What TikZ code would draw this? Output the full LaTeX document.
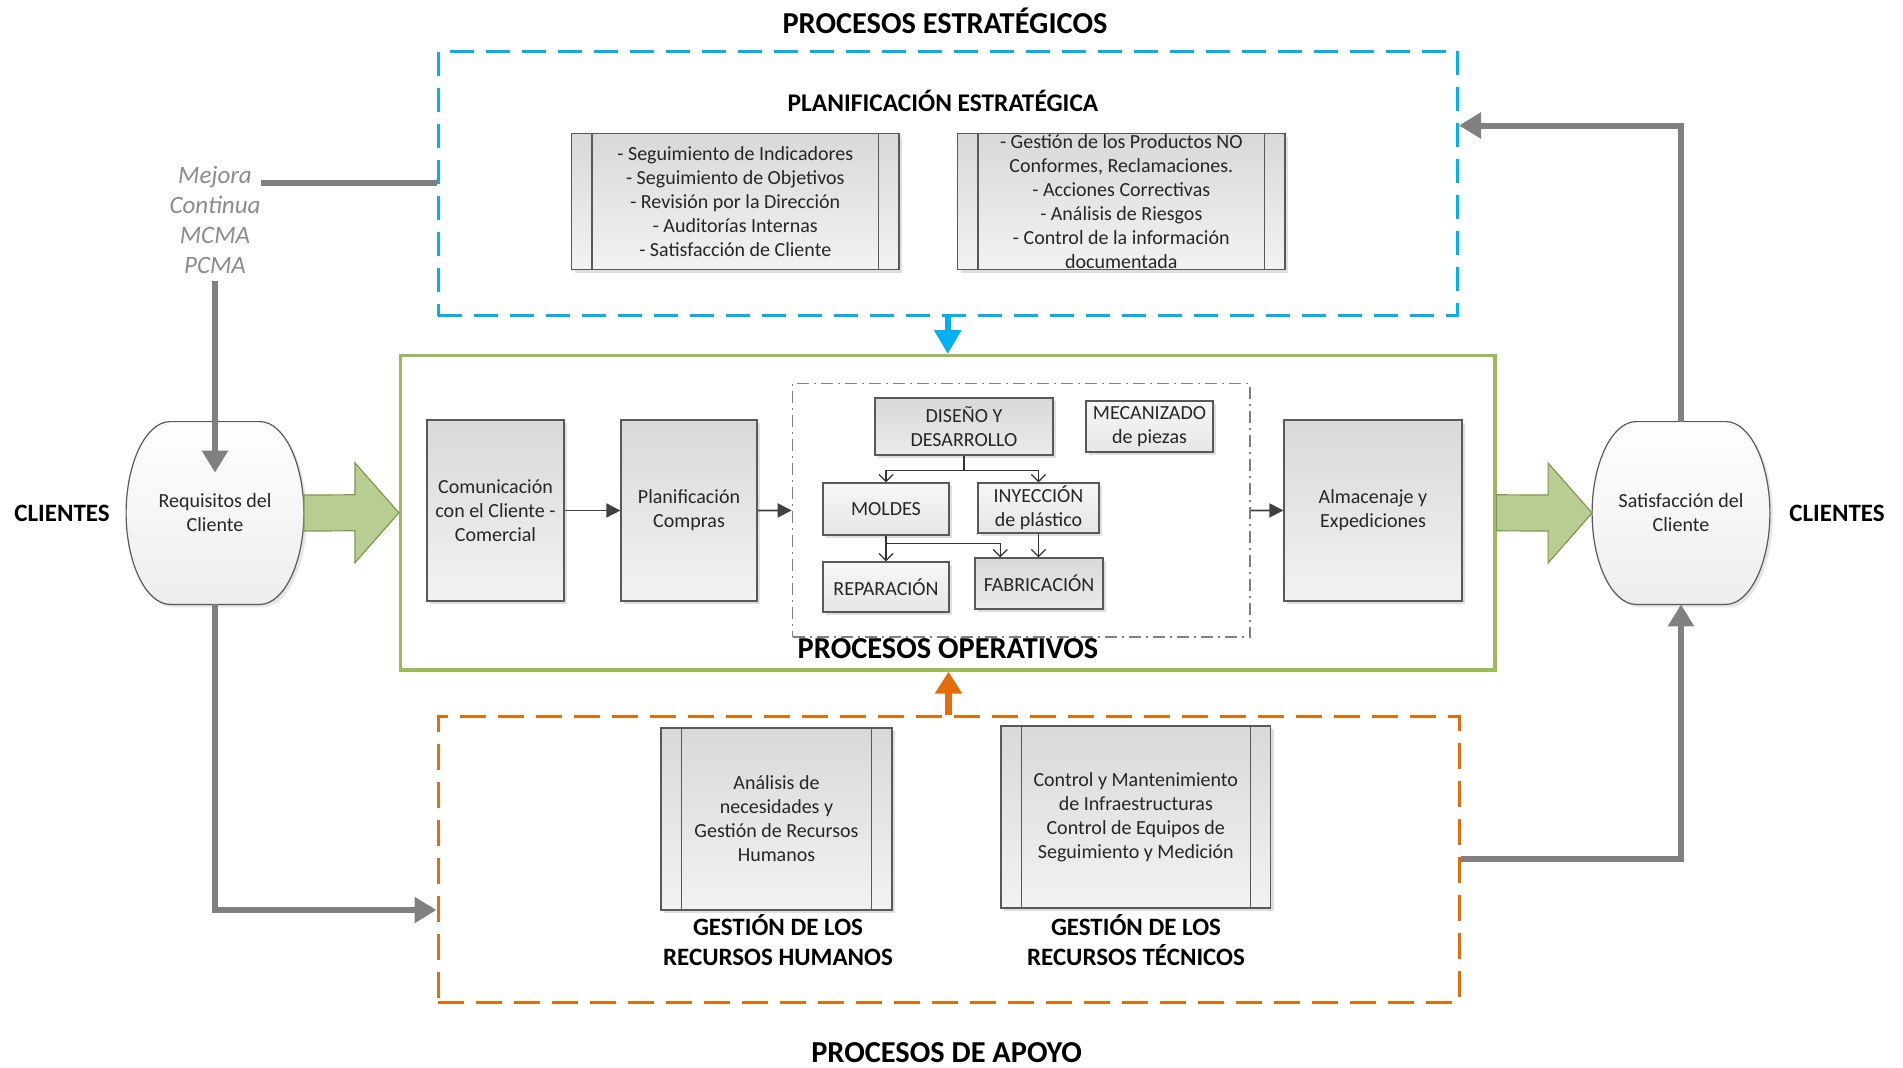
\documentclass[tikz,border=0pt]{standalone}
\usepackage{fontspec}
\setmainfont{Carlito}
\usetikzlibrary{backgrounds}
\usetikzlibrary{calc}
\usetikzlibrary{arrows.meta}
\usetikzlibrary{shadows}

\definecolor{estblue}{HTML}{00B0F0}
\definecolor{opgreen}{HTML}{9BBB59}
\definecolor{apoorange}{HTML}{E46C0A}
\definecolor{flowgray}{HTML}{808080}
\definecolor{edgegray}{HTML}{595959}
\definecolor{arrfill}{HTML}{B9CC92}
\definecolor{arredge}{HTML}{7F9A4C}
\definecolor{txtdark}{HTML}{262626}
\definecolor{mejgray}{HTML}{8C8C8C}

\newcommand{\barside}{10.5pt}
\newcommand{\barrelcut}{44}
\newcommand{\shafthalf}{18}
\newcommand{\headhalf}{50}
\newcommand{\headlen}{44}

% inner bars of a process box
\newcommand{\sidebars}[1]{
  \draw[edgegray, line width=0.6pt] ([xshift=\barside]#1.north west)
    -- ([xshift=\barside]#1.south west);
  \draw[edgegray, line width=0.6pt] ([xshift=-\barside]#1.north east)
    -- ([xshift=-\barside]#1.south east);
}

% client shape round a node
\newcommand{\barrel}[1]{
  \draw[barrelline] ($(#1.north west)+(\barrelcut,0)$)
    -- ($(#1.north east)+(-\barrelcut,0)$)
    .. controls ($(#1.north east)+(-20,0)$) and ($(#1.east)+(0,-50)$) .. (#1.east)
    .. controls ($(#1.east)+(0,50)$) and ($(#1.south east)+(-20,0)$) .. ($(#1.south east)+(-\barrelcut,0)$)
    -- ($(#1.south west)+(\barrelcut,0)$)
    .. controls ($(#1.south west)+(20,0)$) and ($(#1.west)+(0,50)$) .. (#1.west)
    .. controls ($(#1.west)+(0,-50)$) and ($(#1.north west)+(20,0)$) .. cycle;
}

% wide green arrow
\newcommand{\bigarrow}[2]{
  \draw[bigarr] ($(#1)+(0,-\shafthalf)$) -- ($(#2)+(-\headlen,-\shafthalf)$)
    -- ($(#2)+(-\headlen,-\headhalf)$) -- (#2)
    -- ($(#2)+(-\headlen,\headhalf)$) -- ($(#2)+(-\headlen,\shafthalf)$)
    -- ($(#1)+(0,\shafthalf)$) -- cycle;
}

\tikzset{
  every node/.style={text=txtdark, align=center, font=\fontsize{10}{12}\selectfont},
  title/.style={font=\bfseries\fontsize{15.2}{18}\selectfont, text=black},
  subtitle/.style={font=\bfseries\fontsize{12.7}{15}\selectfont, text=black},
  gestitle/.style={font=\bfseries\fontsize{12.5}{15}\selectfont, text=black},
  estbox/.style={draw=estblue, line width=1.5pt, dash pattern=on 12pt off 6pt},
  apobox/.style={draw=apoorange, line width=1.5pt, dash pattern=on 13pt off 6pt},
  opbox/.style={draw=opgreen, line width=1.6pt},
  prodbox/.style={draw=flowgray, line width=0.8pt, dash pattern=on 6pt off 2.5pt on 1pt off 2.5pt},
  procbox/.style={draw=edgegray, line width=0.6pt, inner sep=0pt,
    top color=black!15, bottom color=black!5,
    drop shadow={opacity=0.25, shadow xshift=1.5pt, shadow yshift=-1.5pt}},
  darkbox/.style={procbox, top color=black!15, bottom color=black!8},
  lightbox/.style={procbox, top color=black!3, bottom color=black!10},
  clientnd/.style={inner sep=0pt, minimum width=88.5pt, minimum height=91pt},
  barrelline/.style={draw=edgegray, line width=0.6pt, top color=white, bottom color=black!7,
    drop shadow={opacity=0.2, shadow xshift=1.5pt, shadow yshift=-1.5pt}},
  bigarr/.style={draw=arredge, line width=0.6pt, fill=arrfill},
  flow/.style={draw=flowgray, line width=3pt, -{Triangle[length=11pt,width=12.5pt]}},
  flowline/.style={draw=flowgray, line width=3pt},
  smallarr/.style={draw=black!75, line width=0.85pt, -{Triangle[length=7pt,width=7pt]}},
  treearr/.style={draw=black!80, line width=0.65pt, -{Straight Barb[length=3.5pt,width=7pt]}},
  bluearr/.style={draw=estblue, line width=3.2pt, -{Triangle[length=12pt,width=13pt]}},
  orangearr/.style={draw=apoorange, line width=3.2pt, -{Triangle[length=11pt,width=13pt]}},
}

\begin{document}
\begin{tikzpicture}[x=0.5pt, y=-0.5pt]
  \useasboundingbox (0,0) rectangle (1903,1067);

  % strategic part
  \node[title] (esttitle) at (945,21) {PROCESOS ESTRATÉGICOS};
  \node[estbox, minimum width=509.75pt, minimum height=132.25pt] (est) at (947.75,183.25) {};
  \node[subtitle] (plantitle) at (943,101) {PLANIFICACIÓN ESTRATÉGICA};
  \node[procbox, minimum width=163.7pt, minimum height=68pt] (seg) at (735.3,201.5)
    {- Seguimiento de Indicadores\\- Seguimiento de Objetivos\\- Revisión por la Dirección\\- Auditorías Internas\\- Satisfacción de Cliente};
  \node[procbox, minimum width=163.7pt, minimum height=68pt] (ges) at (1121.3,201.5)
    {- Gestión de los Productos NO\\Conformes, Reclamaciones.\\- Acciones Correctivas\\- Análisis de Riesgos\\- Control de la información\\documentada};
  \sidebars{seg}
  \sidebars{ges}

  % operative part
  \node[opbox, minimum width=547.25pt, minimum height=157.2pt] (oper) at (947.75,512.8) {};
  \node[title] (optitle) at (948,649) {PROCESOS OPERATIVOS};
  \node[procbox, minimum width=68.5pt, minimum height=90.5pt] (com) at (495.5,510.5)
    {Comunicación\\con el Cliente -\\Comercial};
  \node[procbox, minimum width=68pt, minimum height=90.5pt] (plan) at (689,510.5)
    {Planificación\\Compras};
  \node[prodbox, minimum width=228.75pt, minimum height=126.75pt] (prod) at (1021.25,510.25) {};
  \node[procbox, minimum width=89pt, minimum height=90.5pt] (alm) at (1373,510.5)
    {Almacenaje y\\Expediciones};

  % production part
  \node[darkbox, minimum width=89pt, minimum height=28.5pt] (dis) at (964,426.5) {DISEÑO Y\\DESARROLLO};
  \node[lightbox, minimum width=63.5pt, minimum height=25.5pt] (mec) at (1149.5,426.5) {MECANIZADO\\de piezas};
  \node[lightbox, minimum width=63pt, minimum height=26pt] (mol) at (886,509) {MOLDES};
  \node[lightbox, minimum width=60.5pt, minimum height=25pt] (iny) at (1038.5,508) {INYECCIÓN\\de plástico};
  \node[lightbox, minimum width=63pt, minimum height=25pt] (rep) at (886,587) {REPARACIÓN};
  \node[darkbox, minimum width=64pt, minimum height=25.5pt] (fab) at (1039,583.5) {FABRICACIÓN};
  \coordinate (fabin) at ($(fab.north west)!0.2!(fab.north east)$);

  \draw[treearr] (dis.south) -- ++(0,15) -| (mol.north);
  \draw[treearr] (dis.south) -- ++(0,15) -| (iny.north);
  \draw[treearr] (mol.south) -- (rep.north);
  \draw[treearr] (mol.south) -- ++(0,8) -| (fabin);
  \draw[treearr] (iny.south) -- (iny.south |- fab.north);

  \draw[smallarr] (com) -- (plan);
  \draw[smallarr] (plan) -- (prod);
  \draw[smallarr] (prod) -- (alm);

  % support part
  \node[apobox, minimum width=510.5pt, minimum height=143pt] (apoyo) at (948.5,859) {};
  \node[procbox, minimum width=115.5pt, minimum height=91pt] (rrhh) at (776.5,819)
    {Análisis de\\necesidades y\\Gestión de Recursos\\Humanos};
  \node[procbox, minimum width=134.8pt, minimum height=91pt] (rrtt) at (1135.8,817)
    {Control y Mantenimiento\\de Infraestructuras\\Control de Equipos de\\Seguimiento y Medición};
  \sidebars{rrhh}
  \sidebars{rrtt}
  \node[gestitle] (rrhhtitle) at (778,940) {GESTIÓN DE LOS\\RECURSOS HUMANOS};
  \node[gestitle] (rrtttitle) at (1136,940) {GESTIÓN DE LOS\\RECURSOS TÉCNICOS};
  \node[title] (apotitle) at (946.6,1053) {PROCESOS DE APOYO};

  % clients
  \node[gestitle] (clileft) at (62,513) {CLIENTES};
  \node[gestitle] (cliright) at (1837,513) {CLIENTES};
  \node[clientnd] (req) at (215,513) {Requisitos del\\Cliente};
  \node[clientnd] (sat) at (1681,513) {Satisfacción del\\Cliente};
  \begin{scope}[on background layer]
    \barrel{req}
    \barrel{sat}
  \end{scope}
  \bigarrow{req.east}{oper.west}
  \bigarrow{oper.east}{sat.west}

  % improvement loop
  \node[font=\itshape\fontsize{12.5}{15}\selectfont, text=mejgray] (mejora) at (215,220)
    {Mejora\\Continua\\MCMA\\PCMA};
  \coordinate (mejend) at (261,183);
  \coordinate (reqin) at ($(req.north)+(0,51)$);
  \coordinate (apoin) at ($(apoyo.west)+(0,51)$);
  \coordinate (estin) at ($(est.north east)+(0,76)$);
  \draw[flowline] (mejend) -- (mejend -| est.west);
  \draw[flow] (mejora.south) -- (mejora.south |- reqin);
  \draw[flow] (req.south) |- (apoin);
  \draw[flow] (apoyo.east) -| (sat.south);
  \draw[flow] (sat.north) |- (estin);

  \draw[bluearr] (est.south) -- (oper.north);
  \draw[orangearr] (apoyo.north) -- (apoyo.north |- oper.south);
\end{tikzpicture}
\end{document}
